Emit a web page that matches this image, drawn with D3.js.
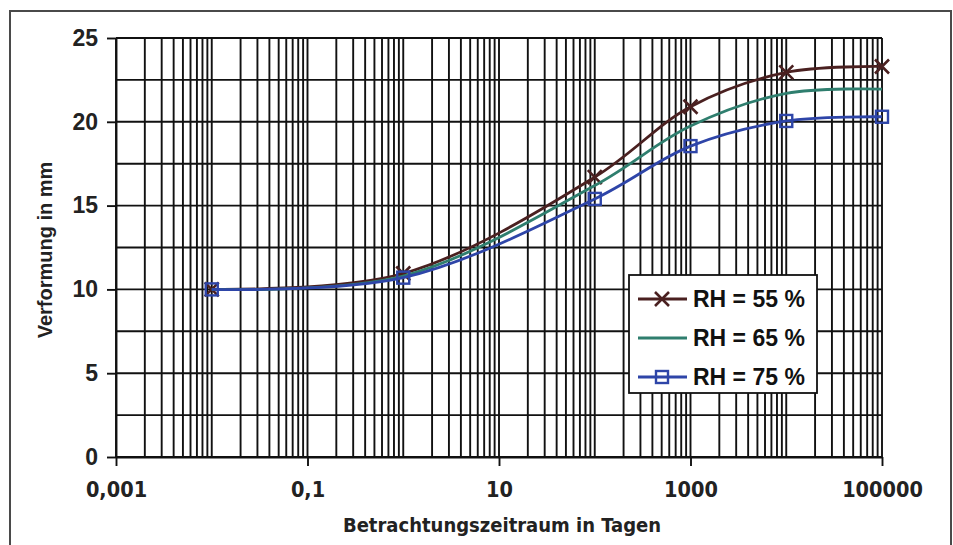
<!DOCTYPE html>
<html>
<head>
<meta charset="utf-8">
<script src="https://cdn.jsdelivr.net/npm/d3@7"></script>
<style>
  html, body { margin: 0; padding: 0; background: #fff; }
  svg { display: block; }
</style>
</head>
<body>
<svg id="chart" width="953" height="545"></svg>
<script>
// Observation times in days (log scale)
const days = [0.01, 1, 100, 1000, 10000, 100000];

// Deformation in mm for each relative humidity
const rh55 = [10.0, 10.95, 16.7, 20.9, 22.95, 23.3];
const rh65 = [10.0, 10.8, 16.2, 19.75, 21.7, 21.95];
const rh75 = [10.0, 10.7, 15.4, 18.55, 20.05, 20.3];

const seriesNames = ["RH = 55 %", "RH = 65 %", "RH = 75 %"];

// Axis ticks
const xTickValues = [0.001, 0.1, 10, 1000, 100000];
const xTickLabels = ["0,001", "0,1", "10", "1000", "100000"];
const yTickValues = [0, 5, 10, 15, 20, 25];
const yGridValues = [0, 2.5, 5, 7.5, 10, 12.5, 15, 17.5, 20, 22.5, 25];

const svg = d3.select("#chart");
const W = 953, H = 545;

svg.append("rect").attr("width", W).attr("height", H).attr("fill", "#fff");

// outer frame of the chart
svg.append("rect")
  .attr("x", 10).attr("y", 11).attr("width", 941).attr("height", 545)
  .attr("fill", "none").attr("stroke", "#4a4a4a").attr("stroke-width", 2);

const x = d3.scaleLog().domain([0.001, 100000]).range([116, 882]);
const y = d3.scaleLinear().domain([0, 25]).range([457, 38]);

const gridColor = "#111";
const gridWidth = 1.9;

// vertical log grid: every 1..9 × 10^k
const grid = svg.append("g");
grid.selectAll("line.v").data(x.ticks())
  .join("line").attr("class", "v")
  .attr("x1", d => x(d)).attr("x2", d => x(d))
  .attr("y1", y(25)).attr("y2", y(0))
  .attr("stroke", gridColor).attr("stroke-width", gridWidth);

// horizontal grid every 2.5 mm
grid.selectAll("line.h").data(yGridValues)
  .join("line").attr("class", "h")
  .attr("x1", x(0.001)).attr("x2", x(100000))
  .attr("y1", d => y(d)).attr("y2", d => y(d))
  .attr("stroke", gridColor).attr("stroke-width", gridWidth);

// y axis
const yAxis = svg.append("g")
  .attr("transform", `translate(${x(0.001)},0)`)
  .call(d3.axisLeft(y).tickValues(yTickValues).tickSize(9).tickSizeOuter(0).tickPadding(9));
yAxis.select(".domain").attr("stroke", gridColor).attr("stroke-width", gridWidth);
yAxis.selectAll(".tick line").attr("stroke", gridColor).attr("stroke-width", gridWidth);
yAxis.selectAll(".tick text")
  .attr("font-family", "'Liberation Sans', Arial, sans-serif")
  .attr("font-weight", "bold").attr("font-size", 23).attr("fill", "#222");

// x axis
const xAxis = svg.append("g")
  .attr("transform", `translate(0,${y(0)})`)
  .call(d3.axisBottom(x).tickValues(xTickValues)
    .tickFormat((d, i) => xTickLabels[i]).tickSize(9).tickSizeOuter(0).tickPadding(16));
xAxis.select(".domain").attr("stroke", gridColor).attr("stroke-width", gridWidth);
xAxis.selectAll(".tick line").attr("stroke", gridColor).attr("stroke-width", gridWidth);
xAxis.selectAll(".tick text")
  .attr("font-family", "'DejaVu Sans Condensed', 'DejaVu Sans', sans-serif")
  .attr("font-stretch", "condensed")
  .attr("font-weight", "bold").attr("font-size", 21.5).attr("fill", "#222");

// axis titles
svg.append("text")
  .attr("x", 502).attr("y", 532)
  .attr("text-anchor", "middle")
  .attr("font-family", "'DejaVu Sans Condensed', 'DejaVu Sans', sans-serif")
  .attr("font-stretch", "condensed")
  .attr("font-weight", "bold").attr("font-size", 20).attr("fill", "#222")
  .text("Betrachtungszeitraum in Tagen");

svg.append("text")
  .attr("transform", "translate(52,250) rotate(-90)")
  .attr("text-anchor", "middle")
  .attr("font-family", "'Liberation Sans', Arial, sans-serif")
  .attr("font-weight", "bold").attr("font-size", 20).attr("fill", "#222")
  .text("Verformung in mm");

// series
const series = [
  { name: seriesNames[0], values: rh55, color: "#4a2020", marker: "cross" },
  { name: seriesNames[1], values: rh65, color: "#2f7e6e", marker: "none" },
  { name: seriesNames[2], values: rh75, color: "#2e45a8", marker: "square" }
];

const line = d3.line()
  .x(d => x(d[0])).y(d => y(d[1]))
  .curve(d3.curveCatmullRom.alpha(0.5));

function drawMarker(g, type, color) {
  if (type === "cross") {
    g.append("path").attr("d", "M-7,-7L7,7M-7,7L7,-7")
      .attr("stroke", color).attr("stroke-width", 2.6).attr("fill", "none");
  } else if (type === "square") {
    g.append("rect").attr("x", -6).attr("y", -6).attr("width", 12).attr("height", 12)
      .attr("stroke", color).attr("stroke-width", 2.4).attr("fill", "none");
  }
}

series.forEach(s => {
  const pts = days.map((d, i) => [d, s.values[i]]);
  svg.append("path").datum(pts)
    .attr("d", line)
    .attr("fill", "none").attr("stroke", s.color).attr("stroke-width", 2.8);
  pts.forEach(p => {
    const g = svg.append("g").attr("transform", `translate(${x(p[0])},${y(p[1])})`);
    drawMarker(g, s.marker, s.color);
  });
});

// legend
const lg = svg.append("g").attr("transform", "translate(629,275)");
lg.append("rect").attr("width", 188).attr("height", 118)
  .attr("fill", "#fff").attr("stroke", "#111").attr("stroke-width", 1.8);
series.forEach((s, i) => {
  const row = lg.append("g").attr("transform", `translate(0,${24 + i * 39})`);
  row.append("line").attr("x1", 9).attr("x2", 58).attr("y1", 0).attr("y2", 0)
    .attr("stroke", s.color).attr("stroke-width", 2.8);
  const mg = row.append("g").attr("transform", "translate(33,0)");
  drawMarker(mg, s.marker, s.color);
  row.append("text").attr("x", 64).attr("y", 8)
    .attr("font-family", "'Liberation Sans', Arial, sans-serif")
    .attr("font-weight", "bold").attr("font-size", 23).attr("fill", "#111")
    .text(s.name);
});
</script>
</body>
</html>
